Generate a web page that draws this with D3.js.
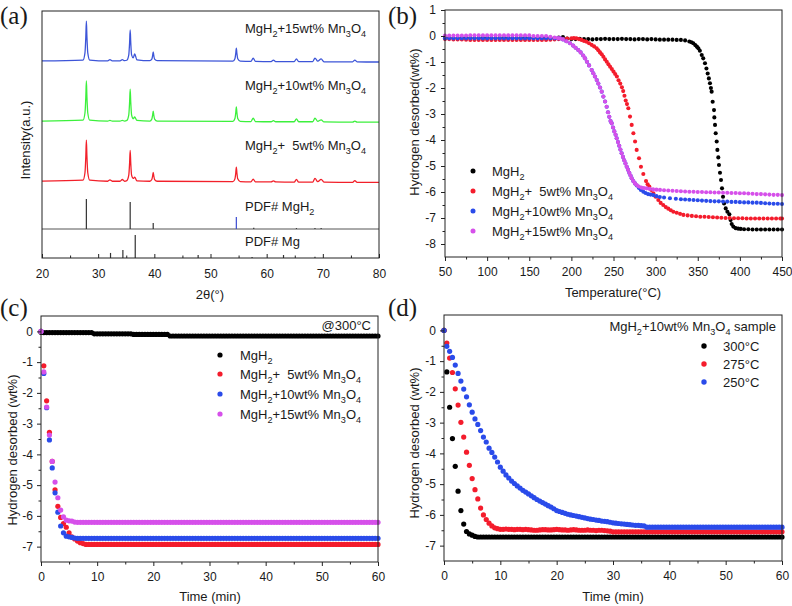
<!DOCTYPE html>
<html><head><meta charset="utf-8">
<script src="https://cdn.jsdelivr.net/npm/d3@7"></script>
<style>
body{margin:0;background:#fff}
svg text{font-family:"Liberation Sans",Arial,sans-serif;fill:#1a1a1a}
</style></head><body>
<svg id="chart" width="792" height="606"></svg>
<script>
// ---------------- DATA ----------------
// (a) XRD
const xrdTheta = [20, 27.3,27.65,27.8,27.9,28.0,28.15,28.5, 31.7,32.1,32.5, 33.9,34.3,34.7,
  35.1,35.45,35.6,35.7,35.8,35.95,36.25,36.5,36.9, 39.2,39.55,39.7,39.8,39.9,40.05,40.5,
  54.0,54.35,54.5,54.6,54.7,54.85,55.3, 57.2,57.6,58.0, 60.8,61.2,61.6, 64.9,65.3,65.7,
  68.2,68.6,69.1,69.7,70.2, 75.3,75.7,76.1, 80];
const xrd15 = [771, 775,808,881,954,881,808,775, 771,777,771, 771,777,772,
  774,799,856,913,856,799,785,803,776, 772,779,796,812,796,779,772,
  770,781,806,830,806,781,770, 769,784,769, 768,775,768, 768,780,768,
  768,784,770,780,767, 767,775,767, 766];
const xrd10 = [495, 499,532,605,679,605,532,499, 495,498,495, 495,498,495,
  498,524,583,642,583,524,506,514,498, 495,504,523,541,523,504,495,
  494,507,534,560,534,507,494, 493,509,493, 492,497,492, 492,505,492,
  492,508,494,501,491, 490,495,490, 490];
const xrd5 = [220, 224,258,333,408,333,258,224, 219,225,219, 219,227,219,
  222,247,304,361,304,247,232,238,221, 219,227,244,260,244,227,219,
  217,230,257,284,257,230,217, 216,229,216, 216,221,216, 215,227,215,
  215,232,217,228,215, 214,222,214, 214];
const pdfMgH2 = [[27.9,100],[35.7,90],[39.8,20],[54.6,40],[57.7,4],[65.3,3],[68.6,3],[69.7,3]];
const pdfMg = [[32.2,22],[34.4,35],[36.6,100],[47.8,13],[57.4,4],[63.0,13],[68.6,5]];
const xrdLabels = ["MgH_2+15wt% Mn_3O_4","MgH_2+10wt% Mn_3O_4","MgH_2+  5wt% Mn_3O_4","PDF# MgH_2","PDF# Mg"];

// (b) TPD  [temperature °C, wt%]
const tpdMgH2 = [[50,-0.08],[55,-0.08],[60,-0.08],[65,-0.08],[70,-0.08],[75,-0.08],[80,-0.08],[85,-0.08],[90,-0.08],[95,-0.08],
 [100,-0.08],[105,-0.08],[110,-0.08],[115,-0.08],[120,-0.08],[125,-0.08],[130,-0.08],[135,-0.08],[140,-0.08],[145,-0.08],
 [150,-0.08],[155,-0.08],[160,-0.08],[165,-0.08],[170,-0.08],[175,-0.08],[180,-0.08],[185,-0.06],[190,-0.04],[195,-0.1],
 [200,-0.12],[205,-0.12],[210,-0.11],[215,-0.12],[220,-0.12],[225,-0.13],[230,-0.12],[235,-0.12],[240,-0.11],[245,-0.12],
 [250,-0.12],[255,-0.12],[260,-0.11],[265,-0.12],[270,-0.12],[275,-0.13],[280,-0.12],[285,-0.12],[290,-0.13],[295,-0.12],
 [300,-0.13],[305,-0.14],[310,-0.14],[315,-0.14],[320,-0.14],[325,-0.15],[330,-0.15],[335,-0.17],[340,-0.21],[342.5,-0.24],
 [344.7,-0.28],[347,-0.35],[349,-0.41],[350.7,-0.47],[352.5,-0.57],[354.7,-0.73],[356.5,-0.86],[358.6,-1.05],[360.3,-1.25],[361.8,-1.44],
 [363.2,-1.63],[364.5,-1.82],[365.6,-2.0],[366.5,-2.14],[367.7,-2.53],[369.3,-2.85],[369.7,-3.13],[370.5,-3.42],[371.3,-3.74],[372.5,-4.06],
 [373.3,-4.38],[374.4,-4.67],[375.2,-4.96],[376.4,-5.26],[377.6,-5.54],[378.8,-5.86],[380,-6.18],[381.2,-6.44],[383.2,-6.63],[385.2,-6.76],
 [387.5,-6.86],[389,-7.08],[390.3,-7.23],[392.2,-7.33],[395,-7.39],[398,-7.41],[401,-7.42],[405,-7.43],[410,-7.43],[415,-7.44],
 [420,-7.44],[425,-7.44],[430,-7.44],[435,-7.44],[440,-7.44],[445,-7.44],[450,-7.44]];
const tpd5 = [[50,-0.12],[55,-0.12],[60,-0.13],[65,-0.13],[70,-0.13],[75,-0.14],[80,-0.15],[85,-0.15],[90,-0.15],[95,-0.15],
 [100,-0.15],[105,-0.15],[110,-0.15],[115,-0.15],[120,-0.15],[125,-0.15],[130,-0.15],[135,-0.15],[140,-0.15],[145,-0.15],
 [150,-0.15],[155,-0.15],[160,-0.15],[165,-0.15],[170,-0.15],[175,-0.14],[180,-0.13],[185,-0.12],[190,-0.11],[195,-0.1],
 [200,-0.09],[203,-0.08],[206,-0.09],[209,-0.12],[212,-0.15],[215,-0.19],[218,-0.22],[221,-0.28],[224,-0.34],[227,-0.4],
 [230,-0.47],[232,-0.55],[234,-0.63],[236,-0.7],[238,-0.8],[240,-0.9],[242,-0.99],[244,-1.09],[246,-1.18],[248,-1.27],
 [250,-1.37],[252,-1.46],[254,-1.56],[256,-1.7],[258,-1.83],[260,-1.97],[261.5,-2.12],[263,-2.3],[264.5,-2.48],[266,-2.62],
 [267.6,-2.78],[269.6,-3.1],[271.6,-3.42],[273.6,-3.74],[275.6,-4.06],[277.5,-4.38],[280.3,-4.7],[282.6,-5.03],[285.4,-5.31],[288.6,-5.58],
 [290.5,-5.7],[292.5,-5.79],[295,-5.92],[297.3,-6.05],[300,-6.18],[303.2,-6.31],[306,-6.42],[309,-6.5],[312,-6.58],[315,-6.64],
 [318,-6.7],[321,-6.76],[325,-6.8],[329,-6.84],[333,-6.88],[338,-6.9],[343,-6.92],[348,-6.93],[353,-6.95],[358,-6.95],
 [363,-6.96],[368,-6.97],[373,-6.98],[378,-6.99],[383,-7],[388,-7],[393,-7.01],[398,-7.01],[403,-7.01],[408,-7.02],
 [413,-7.02],[418,-7.02],[423,-7.02],[428,-7.02],[433,-7.02],[438,-7.02],[443,-7.02],[448,-7.02],[450,-7.02]];
const tpd10 = [[50,-0.09],[55,-0.09],[60,-0.09],[65,-0.09],[70,-0.09],[75,-0.09],[80,-0.09],[85,-0.09],[90,-0.09],[95,-0.09],
 [100,-0.09],[105,-0.09],[110,-0.09],[115,-0.09],[120,-0.09],[125,-0.09],[130,-0.09],[135,-0.09],[140,-0.09],[145,-0.09],
 [150,-0.09],[155,-0.09],[160,-0.09],[165,-0.09],[170,-0.09],[175,-0.09],[180,-0.09],[184,-0.09],[186.5,-0.09],[190,-0.13],
 [194,-0.2],[198.4,-0.28],[202,-0.37],[205,-0.45],[208.2,-0.54],[211,-0.63],[214,-0.75],[216.2,-0.86],[218.5,-0.99],[221,-1.13],
 [224.1,-1.31],[226,-1.43],[228,-1.56],[230.1,-1.69],[232,-1.83],[234,-1.98],[236,-2.14],[238,-2.33],[240,-2.52],[241.9,-2.72],
 [243.5,-2.93],[245,-3.11],[246.5,-3.27],[247.9,-3.36],[249.5,-3.52],[251,-3.67],[252.5,-3.8],[253.8,-3.93],[255.3,-4.08],[256.8,-4.22],
 [258.2,-4.37],[259.7,-4.51],[261.2,-4.65],[262.7,-4.78],[264.2,-4.9],[265.7,-5.03],[267.2,-5.14],[268.7,-5.26],[270.2,-5.37],[271.6,-5.47],
 [273.5,-5.58],[275.5,-5.67],[277.5,-5.75],[280,-5.84],[282.5,-5.92],[285.4,-5.99],[288,-6.04],[291,-6.08],[294,-6.1],[297.3,-6.12],
 [301,-6.16],[305,-6.19],[310,-6.21],[317,-6.24],[324,-6.26],[330,-6.28],[335,-6.29],[340,-6.3],[345,-6.31],[350,-6.32],
 [355,-6.33],[360,-6.34],[365,-6.35],[370,-6.36],[375,-6.36],[380,-6.37],[385,-6.37],[390,-6.38],[395,-6.38],[400,-6.39],
 [405,-6.4],[410,-6.4],[415,-6.41],[420,-6.41],[425,-6.42],[430,-6.43],[435,-6.44],[440,-6.45],[445,-6.45],[450,-6.46]];
const tpd15 = [[50,0.02],[55,0.02],[60,0.02],[65,0.02],[70,0.02],[75,0.02],[80,0.03],[85,0.03],[90,0.03],[95,0.03],
 [100,0.03],[105,0.03],[110,0.03],[115,0.03],[120,0.03],[125,0.03],[130,0.03],[135,0.03],[140,0.03],[145,0.03],
 [150,0.03],[155,0],[160,0],[165,0],[170,0],[175,-0.03],[180,-0.06],[184,-0.08],[186.5,-0.09],[190,-0.13],
 [194,-0.2],[198.4,-0.28],[202,-0.37],[205,-0.45],[208.2,-0.54],[211,-0.63],[214,-0.75],[216.2,-0.86],[218.5,-0.99],[221,-1.13],
 [224.1,-1.31],[226,-1.43],[228,-1.56],[230.1,-1.69],[232,-1.83],[234,-1.98],[236,-2.14],[238,-2.33],[240,-2.52],[241.9,-2.72],
 [243.5,-2.93],[245,-3.11],[246.5,-3.27],[247.9,-3.36],[249.5,-3.52],[251,-3.67],[252.5,-3.8],[253.8,-3.93],[255.3,-4.08],[256.8,-4.22],
 [258.2,-4.37],[259.7,-4.51],[261.2,-4.65],[262.7,-4.78],[264.2,-4.9],[265.7,-5.03],[267.2,-5.14],[268.7,-5.26],[270.2,-5.37],[271.6,-5.47],
 [273.5,-5.58],[275.5,-5.67],[277.5,-5.73],[280,-5.79],[283,-5.83],[286,-5.85],[289.4,-5.86],[293,-5.88],[297,-5.9],[301,-5.91],
 [305.2,-5.92],[310,-5.93],[315,-5.94],[320,-5.95],[325,-5.96],[330,-5.97],[335,-5.98],[340,-5.99],[345,-5.99],[350,-6.0],
 [355,-6.0],[360,-6.01],[365,-6.01],[370,-6.02],[375,-6.02],[380,-6.03],[385,-6.03],[390,-6.04],[395,-6.04],[400,-6.05],
 [405,-6.05],[410,-6.06],[415,-6.07],[420,-6.08],[425,-6.08],[430,-6.09],[435,-6.1],[440,-6.11],[445,-6.11],[450,-6.12]];
const seriesNames = ["MgH_2","MgH_2+  5wt% Mn_3O_4","MgH_2+10wt% Mn_3O_4","MgH_2+15wt% Mn_3O_4"];

// (c),(d) isothermal kinetics, sampled every 0.5 min
const timeMin = d3.range(0, 60.25, 0.5);
const iso300MgH2 = [
 -0.03,-0.04,-0.04,-0.04,-0.04,-0.04,-0.04,-0.04,-0.04,-0.04,
 -0.04,-0.04,-0.04,-0.04,-0.04,-0.04,-0.04,-0.04,-0.04,-0.08,
 -0.08,-0.08,-0.08,-0.08,-0.08,-0.08,-0.08,-0.08,-0.08,-0.08,
 -0.08,-0.08,-0.08,-0.1,-0.1,-0.1,-0.1,-0.1,-0.1,-0.1,
 -0.1,-0.1,-0.1,-0.1,-0.1,-0.1,-0.15,-0.15,-0.15,-0.15,
 -0.15,-0.15,-0.15,-0.15,-0.15,-0.15,-0.15,-0.15,-0.15,-0.15,
 -0.15,-0.15,-0.15,-0.15,-0.15,-0.15,-0.15,-0.15,-0.15,-0.15,
 -0.15,-0.15,-0.15,-0.15,-0.15,-0.15,-0.15,-0.15,-0.15,-0.15,
 -0.15,-0.15,-0.15,-0.15,-0.15,-0.15,-0.15,-0.15,-0.15,-0.15,
 -0.15,-0.15,-0.15,-0.15,-0.15,-0.15,-0.15,-0.15,-0.15,-0.15,
 -0.15,-0.15,-0.15,-0.15,-0.15,-0.15,-0.15,-0.15,-0.15,-0.15,
 -0.15,-0.15,-0.15,-0.15,-0.15,-0.15,-0.15,-0.15,-0.15,-0.15,
 -0.15];
const iso300Mn5 = [
 0,-1.12,-2.26,-3.28,-4.23,-5.15,-5.69,-6.05,-6.25,-6.37,
 -6.55,-6.68,-6.75,-6.82,-6.87,-6.9,-6.93,-6.93,-6.93,-6.93,
 -6.93,-6.93,-6.93,-6.93,-6.93,-6.93,-6.93,-6.93,-6.93,-6.93,
 -6.93,-6.93,-6.93,-6.93,-6.93,-6.93,-6.93,-6.93,-6.93,-6.93,
 -6.93,-6.93,-6.93,-6.93,-6.93,-6.93,-6.93,-6.93,-6.93,-6.93,
 -6.93,-6.93,-6.93,-6.93,-6.93,-6.93,-6.93,-6.93,-6.93,-6.93,
 -6.93,-6.93,-6.93,-6.93,-6.93,-6.93,-6.93,-6.93,-6.93,-6.93,
 -6.93,-6.93,-6.93,-6.93,-6.93,-6.93,-6.93,-6.93,-6.93,-6.93,
 -6.93,-6.93,-6.93,-6.93,-6.93,-6.93,-6.93,-6.93,-6.93,-6.93,
 -6.93,-6.93,-6.93,-6.93,-6.93,-6.93,-6.93,-6.93,-6.93,-6.93,
 -6.93,-6.93,-6.93,-6.93,-6.93,-6.93,-6.93,-6.93,-6.93,-6.93,
 -6.93,-6.93,-6.93,-6.93,-6.93,-6.93,-6.93,-6.93,-6.93,-6.93,
 -6.93];
const iso300Mn10 = [
 0,-1.37,-2.48,-3.53,-4.44,-5.25,-5.88,-6.33,-6.55,-6.66,
 -6.68,-6.7,-6.72,-6.73,-6.73,-6.73,-6.73,-6.73,-6.73,-6.73,
 -6.73,-6.73,-6.73,-6.73,-6.73,-6.73,-6.73,-6.73,-6.73,-6.73,
 -6.73,-6.73,-6.73,-6.73,-6.73,-6.73,-6.73,-6.73,-6.73,-6.73,
 -6.73,-6.73,-6.73,-6.73,-6.73,-6.73,-6.73,-6.73,-6.73,-6.73,
 -6.73,-6.73,-6.73,-6.73,-6.73,-6.73,-6.73,-6.73,-6.73,-6.73,
 -6.73,-6.73,-6.73,-6.73,-6.73,-6.73,-6.73,-6.73,-6.73,-6.73,
 -6.73,-6.73,-6.73,-6.73,-6.73,-6.73,-6.73,-6.73,-6.73,-6.73,
 -6.73,-6.73,-6.73,-6.73,-6.73,-6.73,-6.73,-6.73,-6.73,-6.73,
 -6.73,-6.73,-6.73,-6.73,-6.73,-6.73,-6.73,-6.73,-6.73,-6.73,
 -6.73,-6.73,-6.73,-6.73,-6.73,-6.73,-6.73,-6.73,-6.73,-6.73,
 -6.73,-6.73,-6.73,-6.73,-6.73,-6.73,-6.73,-6.73,-6.73,-6.73,
 -6.73];
const iso300Mn15 = [
 0,-1.32,-2.46,-3.37,-4.23,-4.9,-5.41,-5.81,-6.03,-6.14,
 -6.16,-6.17,-6.2,-6.21,-6.21,-6.21,-6.21,-6.21,-6.21,-6.21,
 -6.21,-6.21,-6.21,-6.21,-6.21,-6.21,-6.21,-6.21,-6.21,-6.21,
 -6.21,-6.21,-6.21,-6.21,-6.21,-6.21,-6.21,-6.21,-6.21,-6.21,
 -6.21,-6.21,-6.21,-6.21,-6.21,-6.21,-6.21,-6.21,-6.21,-6.21,
 -6.21,-6.21,-6.21,-6.21,-6.21,-6.21,-6.21,-6.21,-6.21,-6.21,
 -6.21,-6.21,-6.21,-6.21,-6.21,-6.21,-6.21,-6.21,-6.21,-6.21,
 -6.21,-6.21,-6.21,-6.21,-6.21,-6.21,-6.21,-6.21,-6.21,-6.21,
 -6.21,-6.21,-6.21,-6.21,-6.21,-6.21,-6.21,-6.21,-6.21,-6.21,
 -6.21,-6.21,-6.21,-6.21,-6.21,-6.21,-6.21,-6.21,-6.21,-6.21,
 -6.21,-6.21,-6.21,-6.21,-6.21,-6.21,-6.21,-6.21,-6.21,-6.21,
 -6.21,-6.21,-6.21,-6.21,-6.21,-6.21,-6.21,-6.21,-6.21,-6.21,
 -6.21];
const isoT300 = [
 0,-1.35,-2.5,-3.52,-4.42,-5.23,-5.86,-6.3,-6.54,-6.62,
 -6.66,-6.7,-6.72,-6.72,-6.72,-6.72,-6.72,-6.72,-6.72,-6.72,
 -6.72,-6.72,-6.72,-6.72,-6.72,-6.72,-6.72,-6.72,-6.72,-6.72,
 -6.72,-6.72,-6.72,-6.72,-6.72,-6.72,-6.72,-6.72,-6.72,-6.72,
 -6.72,-6.72,-6.72,-6.72,-6.72,-6.72,-6.72,-6.72,-6.72,-6.72,
 -6.72,-6.72,-6.72,-6.72,-6.72,-6.72,-6.72,-6.72,-6.72,-6.72,
 -6.72,-6.72,-6.72,-6.72,-6.72,-6.72,-6.72,-6.72,-6.72,-6.72,
 -6.72,-6.72,-6.72,-6.72,-6.72,-6.72,-6.72,-6.72,-6.72,-6.72,
 -6.72,-6.72,-6.72,-6.72,-6.72,-6.72,-6.72,-6.72,-6.72,-6.72,
 -6.72,-6.72,-6.72,-6.72,-6.72,-6.72,-6.72,-6.72,-6.72,-6.72,
 -6.72,-6.72,-6.72,-6.72,-6.72,-6.72,-6.72,-6.72,-6.72,-6.72,
 -6.72,-6.72,-6.72,-6.72,-6.72,-6.72,-6.72,-6.72,-6.72,-6.72,
 -6.72];
const isoT275 = [
 0,-0.41,-0.9,-1.37,-1.9,-2.43,-2.99,-3.47,-3.96,-4.39,
 -4.82,-5.18,-5.48,-5.78,-6.0,-6.15,-6.27,-6.36,-6.42,-6.45,
 -6.47,-6.47,-6.46,-6.47,-6.47,-6.48,-6.47,-6.47,-6.48,-6.47,
 -6.48,-6.49,-6.5,-6.5,-6.49,-6.48,-6.48,-6.49,-6.49,-6.48,
 -6.47,-6.48,-6.49,-6.49,-6.5,-6.49,-6.48,-6.49,-6.5,-6.5,
 -6.5,-6.49,-6.5,-6.5,-6.51,-6.5,-6.5,-6.51,-6.52,-6.53,
 -6.55,-6.55,-6.55,-6.55,-6.55,-6.55,-6.55,-6.55,-6.55,-6.55,
 -6.55,-6.55,-6.55,-6.55,-6.55,-6.55,-6.55,-6.55,-6.55,-6.55,
 -6.55,-6.55,-6.55,-6.55,-6.55,-6.55,-6.55,-6.55,-6.55,-6.55,
 -6.55,-6.55,-6.55,-6.55,-6.55,-6.55,-6.55,-6.55,-6.55,-6.55,
 -6.55,-6.55,-6.55,-6.55,-6.55,-6.55,-6.55,-6.55,-6.55,-6.55,
 -6.55,-6.55,-6.55,-6.55,-6.55,-6.55,-6.55,-6.55,-6.55,-6.55,
 -6.55];
const isoT250 = [
 0,-0.52,-0.68,-0.88,-1.13,-1.4,-1.65,-1.91,-2.16,-2.42,
 -2.66,-2.88,-3.06,-3.26,-3.47,-3.63,-3.83,-3.97,-4.12,-4.28,
 -4.45,-4.58,-4.7,-4.8,-4.9,-4.98,-5.06,-5.13,-5.2,-5.26,
 -5.32,-5.38,-5.44,-5.5,-5.55,-5.6,-5.65,-5.7,-5.75,-5.8,
 -5.86,-5.89,-5.92,-5.95,-5.98,-6.0,-6.02,-6.04,-6.06,-6.08,
 -6.1,-6.12,-6.14,-6.15,-6.17,-6.18,-6.2,-6.21,-6.22,-6.24,
 -6.26,-6.27,-6.28,-6.29,-6.3,-6.31,-6.32,-6.33,-6.34,-6.34,
 -6.35,-6.36,-6.4,-6.4,-6.4,-6.4,-6.4,-6.4,-6.4,-6.4,
 -6.4,-6.4,-6.4,-6.4,-6.4,-6.4,-6.4,-6.4,-6.4,-6.4,
 -6.4,-6.4,-6.4,-6.4,-6.4,-6.4,-6.4,-6.4,-6.4,-6.4,
 -6.4,-6.4,-6.4,-6.4,-6.4,-6.4,-6.4,-6.4,-6.4,-6.4,
 -6.4,-6.4,-6.4,-6.4,-6.4,-6.4,-6.4,-6.4,-6.4,-6.4,
 -6.4];
const tempLabels = ["300°C","275°C","250°C"];

// ---------------- DRAWING ----------------
const FONT = '"Liberation Sans", Arial, sans-serif';
const svg = d3.select("#chart");
const INK = "#222";
const COL = {black:"#000000", red:"#f41c2c", blue:"#2a4bea", mag:"#d650ea"};

function chem(sel, str, size){
  const parts = str.split(/_(\d)/);
  parts.forEach((p,i)=>{
    if(p==="") return;
    const ts = sel.append("tspan").text(p);
    if(i%2===1){ ts.attr("font-size", size*0.7).attr("dy", size*0.3); }
    else if(i>0){ ts.attr("dy", -size*0.3); }
  });
}
function label(x, y, str, size, anchor){
  const t = svg.append("text").attr("x",x).attr("y",y).attr("font-size",size)
    .attr("text-anchor",anchor||"start").style("white-space","pre");
  chem(t, str, size);
  return t;
}
function axis(orient, scale, pos, vals, size, pad, withLabels){
  const gen = (orient==="b"?d3.axisBottom:d3.axisLeft)(scale).tickValues(vals)
    .tickSize(size).tickPadding(pad).tickFormat(withLabels ? (d=>String(d)) : "");
  const g = svg.append("g").attr("transform", orient==="b" ? `translate(0,${pos})` : `translate(${pos},0)`).call(gen);
  g.select(".domain").remove();
  g.attr("font-family", FONT).attr("font-size", 12);
  g.selectAll("line").attr("stroke", INK).attr("stroke-width", 1);
  g.selectAll("text").attr("fill", INK);
  return g;
}
function frame(x, y){
  svg.append("rect").attr("x",x.range()[0]).attr("y",y.range()[1])
    .attr("width",x.range()[1]-x.range()[0]).attr("height",y.range()[0]-y.range()[1])
    .attr("fill","none").attr("stroke",INK).attr("stroke-width",1);
}
function ylabel(cx, cy, text){
  svg.append("text").attr("transform",`translate(${cx},${cy}) rotate(-90)`).attr("dy","0.35em")
    .attr("text-anchor","middle").attr("font-size",13).text(text);
}
function title(cx, y, text){
  svg.append("text").attr("x",cx).attr("y",y).attr("text-anchor","middle").attr("font-size",13).text(text);
}
function letter(x, y, t){
  svg.append("text").attr("x",x).attr("y",y).attr("font-size",25)
    .style("font-family",'"Liberation Serif","Times New Roman",serif').text(t);
}
function dots(data, x, y, r, color){
  svg.append("g").selectAll("circle").data(data).join("circle")
    .attr("cx",d=>x(d[0])).attr("cy",d=>y(d[1])).attr("r",r).attr("fill",color);
}

// ===== (a) =====
{
  const x = d3.scaleLinear().domain([20,80]).range([42,379]);
  const y = d3.scaleLinear().domain([0,1000]).range([229,11]);
  const yH = d3.scaleLinear().domain([0,100]).range([229,199]);
  const yM = d3.scaleLinear().domain([0,100]).range([258,235]);
  const line = d3.line().x(d=>x(d[0])).y(d=>y(d[1])).curve(d3.curveMonotoneX);
  [[xrd15,"#3d55d8"],[xrd10,"#3cf03c"],[xrd5,"#f2202a"]].forEach(([vals,c])=>{
    svg.append("path").attr("d", line(xrdTheta.map((t,i)=>[t,vals[i]])))
      .attr("fill","none").attr("stroke",c).attr("stroke-width",1.3);
  });
  svg.append("line").attr("x1",42).attr("x2",379).attr("y1",yH(0)).attr("y2",yH(0)).attr("stroke","#555").attr("stroke-width",1);
  svg.append("g").selectAll("line").data(pdfMgH2).join("line")
    .attr("x1",d=>x(d[0])).attr("x2",d=>x(d[0])).attr("y1",yH(0)).attr("y2",d=>yH(d[1]))
    .attr("stroke",d=>d[0]===54.6?"#3a4ad0":"#333").attr("stroke-width",1.2);
  svg.append("g").selectAll("line").data(pdfMg).join("line")
    .attr("x1",d=>x(d[0])).attr("x2",d=>x(d[0])).attr("y1",yM(0)).attr("y2",d=>yM(d[1]))
    .attr("stroke","#333").attr("stroke-width",1.2);
  svg.append("rect").attr("x",42).attr("y",11).attr("width",337).attr("height",247).attr("fill","none").attr("stroke",INK);
  axis("b", x, 258, d3.range(25,80,10), -2.5, 0, false);
  axis("b", x, 258, d3.range(20,81,10), -4, 11, true);
  label(245, 33, xrdLabels[0], 13);
  label(245, 90, xrdLabels[1], 13);
  label(245, 150, xrdLabels[2], 13);
  label(245, 211, xrdLabels[3], 13);
  label(245, 246, xrdLabels[4], 13);
  ylabel(25, 140, "Intensity(a.u.)");
  title(210, 299, "2θ(°)");
  letter(0, 24, "(a)");
}

// ===== (b) =====
{
  const x = d3.scaleLinear().domain([50,450]).range([445,782]);
  const y = d3.scaleLinear().domain([-8.5,1]).range([257,10]);
  const sets = [[tpdMgH2,COL.black],[tpd5,COL.red],[tpd10,COL.blue],[tpd15,COL.mag]];
  sets.forEach(([d,c])=>dots(d,x,y,2.05,c));
  frame(x,y);
  axis("b", x, 257, d3.range(75,450,50), 2.5, 0, false);
  axis("b", x, 257, d3.range(50,451,50), 4, 6, true);
  axis("l", y, 445, d3.range(-7.5,1,1), 2.5, 0, false);
  axis("l", y, 445, d3.range(-8,1.5,1), 4, 5, true);
  const ly = [171,191,211,231];
  sets.forEach(([d,c],i)=>{
    svg.append("circle").attr("cx",473).attr("cy",ly[i]).attr("r",2.5).attr("fill",c);
    label(492, ly[i]+5, seriesNames[i], 13);
  });
  ylabel(414, 122, "Hydrogen desorbed(wt%)");
  title(613, 297, "Temperature(°C)");
  letter(388, 24, "(b)");
}

// ===== (c) =====
{
  const x = d3.scaleLinear().domain([0,60]).range([41,378]);
  const y = d3.scaleLinear().domain([-7.5,0.5]).range([562,316]);
  const sets = [[iso300MgH2,COL.black],[iso300Mn5,COL.red],[iso300Mn10,COL.blue],[iso300Mn15,COL.mag]];
  sets.forEach(([v,c])=>dots(timeMin.map((t,i)=>[t,v[i]]),x,y,2.6,c));
  frame(x,y);
  axis("b", x, 562, d3.range(5,60,10), 2.5, 0, false);
  axis("b", x, 562, d3.range(0,61,10), 4, 6, true);
  axis("l", y, 41, d3.range(-6.5,0.5,1), 2.5, 0, false);
  axis("l", y, 41, d3.range(-7,0.5,1), 4, 4, true);
  const ly = [355,374,394,414];
  sets.forEach(([v,c],i)=>{
    svg.append("circle").attr("cx",220).attr("cy",ly[i]).attr("r",2.6).attr("fill",c);
    label(240, ly[i]+5, seriesNames[i], 13);
  });
  svg.append("text").attr("x",371).attr("y",330).attr("text-anchor","end").attr("font-size",13).text("@300°C");
  ylabel(12, 450, "Hydrogen desorbed (wt%)");
  title(210, 601, "Time (min)");
  letter(0, 316, "(c)");
}

// ===== (d) =====
{
  const x = d3.scaleLinear().domain([0,60]).range([444,782]);
  const y = d3.scaleLinear().domain([-7.5,0.5]).range([561,315]);
  const sets = [[isoT300,COL.black],[isoT275,COL.red],[isoT250,COL.blue]];
  sets.forEach(([v,c])=>dots(timeMin.map((t,i)=>[t,v[i]]),x,y,2.6,c));
  frame(x,y);
  axis("b", x, 561, d3.range(5,60,10), 2.5, 0, false);
  axis("b", x, 561, d3.range(0,61,10), 4, 6, true);
  axis("l", y, 444, d3.range(-6.5,0.5,1), 2.5, 0, false);
  axis("l", y, 444, d3.range(-7,0.5,1), 4, 4, true);
  label(776, 331, "MgH_2+10wt% Mn_3O_4 sample", 13, "end");
  const ly = [346,364,382];
  sets.forEach(([v,c],i)=>{
    svg.append("circle").attr("cx",704).attr("cy",ly[i]).attr("r",2.7).attr("fill",c);
    svg.append("text").attr("x",723).attr("y",ly[i]+5).attr("font-size",13).text(tempLabels[i]);
  });
  ylabel(414, 443, "Hydrogen desorbed (wt%)");
  title(613, 601, "Time (min)");
  letter(388, 316, "(d)");
}
</script>
</body></html>
